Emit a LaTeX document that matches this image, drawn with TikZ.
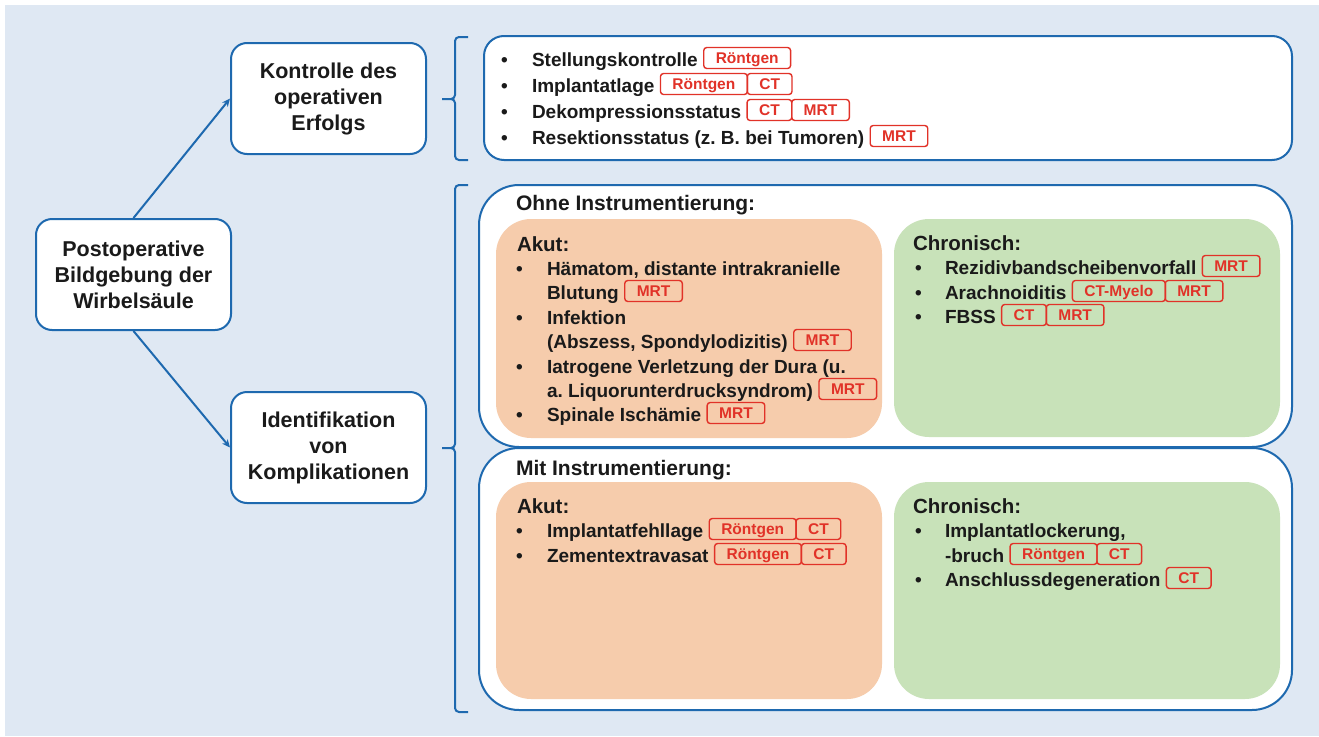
\documentclass[tikz,border=0pt]{standalone}
\usepackage{fontspec}
\setmainfont{Liberation Sans}
\usetikzlibrary{positioning,arrows.meta}
\definecolor{bgblue}{RGB}{223,232,243}
\definecolor{lineblue}{RGB}{30,105,175}
\definecolor{peach}{RGB}{246,204,172}
\definecolor{mint}{RGB}{200,226,185}
\definecolor{tagred}{RGB}{225,50,40}
\definecolor{ink}{RGB}{26,26,26}
\begin{document}
\frenchspacing
\begin{tikzpicture}[x=1pt,y=-1pt]
        \tikzstyle{boxtitle}=[draw=lineblue,fill=white,line width=2pt,rounded corners=16pt,minimum width=195pt,minimum height=111pt,inner sep=0pt,align=center,text=ink,font=\fontsize{21.5}{26}\selectfont\bfseries]
        \tikzstyle{panel}=[draw=lineblue,fill=white,line width=2pt,inner sep=0pt,minimum width=813pt,minimum height=262pt,rounded corners=40pt]
        \tikzstyle{field}=[inner sep=0pt,minimum width=386pt,rounded corners=35pt]
        \tikzstyle{heading}=[anchor=base west,inner sep=0pt,outer sep=0pt,text=ink,font=\fontsize{20.5}{24}\selectfont\bfseries]
        \tikzstyle{entry}=[anchor=base west,inner sep=0pt,outer sep=0pt,text=ink,font=\fontsize{19}{24}\selectfont\bfseries]
        \tikzstyle{bulletmark}=[entry]
        \tikzstyle{tagbox}=[draw=tagred,text=tagred,line width=1.4pt,rounded corners=3pt,inner xsep=12pt,inner ysep=3.5pt,outer sep=0pt,text height=12pt,text depth=2pt,font=\fontsize{15.5}{16}\selectfont\bfseries]
        \tikzstyle{flow}=[draw=lineblue,line width=2pt,-{Stealth[length=8pt,width=7pt]}]
        \tikzstyle{bracket}=[draw=lineblue,line width=2pt,rounded corners=4pt]

        \useasboundingbox (0,0) rectangle (1319,736);
        \fill[bgblue] (5,5) rectangle (1319,736);

        % left side
        \node[boxtitle] (main) at (133.5,274.5) {Postoperative\\Bildgebung der\\Wirbelsäule};
        \node[boxtitle] (kontrolle) at (328.5,98.5) {Kontrolle des\\operativen\\Erfolgs};
        \node[boxtitle] (ident) at (328.5,447.5) {Identifikation\\von\\Komplikationen};
        \draw[flow] (main.north) -- (kontrolle.west);
        \draw[flow] (main.south) -- (ident.west);

        \foreach \ya/\ym/\yb in {37/99/160, 185/448/712}
                \draw[bracket] (468,\ya) -- (455,\ya) -- (455,\ym) -- (442,\ym) (442,\ym) -- (455,\ym) -- (455,\yb) -- (468,\yb);

        % panels
        \node[panel,minimum width=808pt,minimum height=124pt,rounded corners=20pt] (erfolg) at (888,98) {};
        \node[panel] (ohne) at (885.5,316) {};
        \node[panel] (mit) at (885.5,579) {};
        \node[field,fill=peach,minimum height=219pt] (oakut) at (689,328.5) {};
        \node[field,fill=mint,minimum height=218pt] (ochron) at (1087,328) {};
        \node[field,fill=peach,minimum height=217pt] (makut) at (689,590.5) {};
        \node[field,fill=mint,minimum height=217pt] (mchron) at (1087,590.5) {};

        \node[heading,font=\fontsize{21}{24}\selectfont\bfseries] (h-ohne) at (516,210) {Ohne Instrumentierung:};
        \node[heading,font=\fontsize{21}{24}\selectfont\bfseries] (h-mit) at (516,475) {Mit Instrumentierung:};
        \foreach \name/\x/\y/\txt in {h-oa/517/251/Akut:, h-oc/913/250/Chronisch:, h-ma/517/513/Akut:, h-mc/913/513/Chronisch:}
                \node[heading] (\name) at (\x,\y) {\txt};

        % list lines
        \foreach \name/\x/\y/\txt in {k1/532/66/Stellungskontrolle, k2/532/92/Implantatlage, k3/532/118/Dekompressionsstatus,
                k4/532/144/{Resektionsstatus (z. B. bei Tumoren)},
                oa1/547/275/{Hämatom, distante intrakranielle}, oa2/547/299/Blutung, oa3/547/324/Infektion,
                oa4/547/348/{(Abszess, Spondylodizitis)}, oa5/547/373/{Iatrogene Verletzung der Dura (u.},
                oa6/547/397/{a. Liquorunterdrucksyndrom)}, oa7/547/421/{Spinale Ischämie},
                oc1/945/274/Rezidivbandscheibenvorfall, oc2/945/299/Arachnoiditis, oc3/945/323/FBSS,
                ma1/547/537/Implantatfehllage, ma2/547/562/Zementextravasat,
                mc1/945/537/{Implantatlockerung,}, mc2/945/562/-bruch, mc3/945/586/Anschlussdegeneration}
                \node[entry] (\name) at (\x,\y) {\txt};

        \foreach \name/\x/\y in {k1/501/66, k2/501/92, k3/501/118, k4/501/144, oa1/516/275, oa3/516/324, oa5/516/373, oa7/516/421,
                oc1/915/274, oc2/915/299, oc3/915/323, ma1/516/537, ma2/516/562, mc1/915/537, mc3/915/586}
                \node[bulletmark] (d-\name) at (\x,\y) {•};

        % modality tags
        \foreach \at/\txt in {k1/Röntgen, k2/Röntgen, k3/CT, k4/MRT, oa2/MRT, oa4/MRT, oa6/MRT, oa7/MRT,
                oc1/MRT, oc2/CT-Myelo, oc3/CT, ma1/Röntgen, ma2/Röntgen, mc2/Röntgen, mc3/CT}
                \node[tagbox,base right=6pt of \at,yshift=3pt] (\at-t1) {\txt};
        \foreach \at/\txt in {k2/CT, k3/MRT, oc2/MRT, oc3/MRT, ma1/CT, ma2/CT, mc2/CT}
                \node[tagbox,base right=0pt of \at-t1] (\at-t2) {\txt};
\end{tikzpicture}
\end{document}
